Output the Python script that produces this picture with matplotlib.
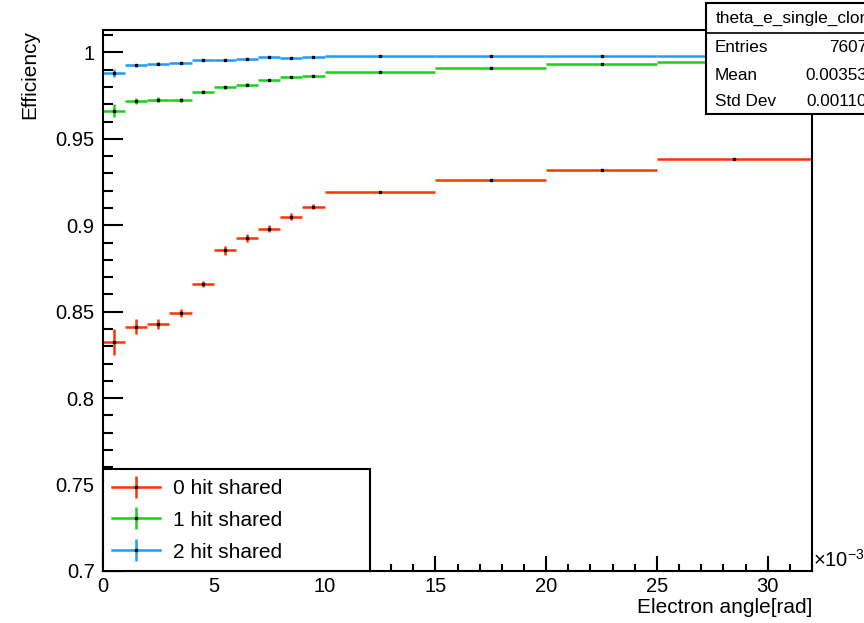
import numpy as np
import matplotlib
matplotlib.use("Agg")
import matplotlib.pyplot as plt
from matplotlib.patches import Rectangle
from matplotlib.lines import Line2D
from matplotlib.ticker import MultipleLocator

matplotlib.rcParams.update({
    'font.family': ['Liberation Sans', 'DejaVu Sans'],
    'font.size': 15,
    'mathtext.fontset': 'custom',
    'mathtext.rm': 'Liberation Sans',
})

# bin edges of electron angle (x 1e-3 rad)
edges = [0, 1, 2, 3, 4, 5, 6, 7, 8, 9, 10, 15, 20, 25, 32]

eff_0hit = [0.8325, 0.8414, 0.8428, 0.849, 0.866, 0.8856, 0.8925, 0.8979, 0.905,
            0.9108, 0.9191, 0.9263, 0.9322, 0.9383]
err_0hit = [0.0078, 0.0043, 0.0029, 0.0023, 0.0017, 0.0026, 0.0023, 0.002, 0.002,
            0.0014, 0.0006, 0.0005, 0.0005, 0.0005]

eff_1hit = [0.9664, 0.972, 0.9726, 0.9726, 0.9772, 0.9799, 0.9814, 0.984, 0.9857,
            0.9865, 0.9888, 0.991, 0.9934, 0.9946]
err_1hit = [0.0039, 0.0019, 0.0014, 0.0012, 0.0009, 0.0009, 0.0007, 0.0006, 0.0006,
            0.0005, 0.0003, 0.0003, 0.0003, 0.0003]

eff_2hit = [0.9883, 0.9925, 0.9936, 0.9938, 0.9956, 0.9956, 0.9961, 0.9973, 0.9967,
            0.9974, 0.998, 0.998, 0.998, 0.998]
err_2hit = [0.0023, 0.0009, 0.0006, 0.0005, 0.0004, 0.0004, 0.0004, 0.0003, 0.0003,
            0.0003, 0.0002, 0.0002, 0.0002, 0.0002]

labels = ['0 hit shared', '1 hit shared', '2 hit shared']
colors = ['#ff3300', '#14d214', '#1e9bff']

stats_title = 'theta_e_single_clone'
stats_names = ['Entries', 'Mean', 'Std Dev']
stats_values = ['7607', '0.00353', '0.00110']

edges = np.array(edges, dtype=float)
centers = 0.5 * (edges[1:] + edges[:-1])
halfw = 0.5 * (edges[1:] - edges[:-1])

W, H = 864, 623
fig = plt.figure(figsize=(W / 100, H / 100), dpi=100)
ax = fig.add_axes([103 / W, (H - 571) / H, (812 - 103) / W, (571 - 30) / H])

series = [(eff_0hit, err_0hit), (eff_1hit, err_1hit), (eff_2hit, err_2hit)]
handles = []
for (vals, errs), lab, col in zip(series, labels, colors):
    ax.errorbar(centers, vals, xerr=halfw, yerr=errs, fmt='none',
                ecolor=col, elinewidth=1.8, capsize=0, zorder=2)
    ax.plot(centers, vals, 's', color='k', ms=1.6, zorder=3)
    # legend symbol: horizontal bar + vertical bar + black point
    h = (Line2D([], [], color=col, lw=1.8),
         Line2D([], [], color=col, marker='|', ms=16, mew=1.8, ls='none'),
         Line2D([], [], color='k', marker='s', ms=1.6, ls='none'))
    handles.append(h)

ax.set_xlim(0, 32)
ax.set_ylim(0.7, 1.013)
ax.xaxis.set_minor_locator(MultipleLocator(1))
ax.yaxis.set_minor_locator(MultipleLocator(0.01))
ax.set_xticks([0, 5, 10, 15, 20, 25, 30])
ax.set_xticklabels(['0', '5', '10', '15', '20', '25', '30'])
ax.set_yticks([0.7, 0.75, 0.8, 0.85, 0.9, 0.95, 1.0])
ax.set_yticklabels(['0.7', '0.75', '0.8', '0.85', '0.9', '0.95', '1'])

ax.tick_params(axis='both', which='both', direction='in', top=False, right=False,
               labelsize=14.5, width=1.5)
ax.tick_params(axis='y', which='major', length=14.4, pad=6)
ax.tick_params(axis='y', which='minor', length=7)
ax.tick_params(axis='x', which='major', length=11, pad=4)
ax.tick_params(axis='x', which='minor', length=5.4)
for sp in ax.spines.values():
    sp.set_linewidth(1.5)

ax.set_xlabel('Electron angle[rad]', loc='right', fontsize=15)
ax.xaxis.set_label_coords(1.0, -0.05)
ax.set_ylabel('Efficiency', loc='top', fontsize=15)
ax.yaxis.set_label_coords(-0.09, 1.0)

ax.text(1.002, 0.0, r'$\mathregular{\times10^{-3}}$', transform=ax.transAxes,
        ha='left', va='bottom', fontsize=14.5)

leg = ax.legend(handles, labels, loc='lower left', bbox_to_anchor=(0, 0, 0.377, 0.194),
                mode='expand', borderaxespad=0, fancybox=False, edgecolor='k',
                framealpha=1, handlelength=2.3, handletextpad=0.6, labelspacing=0.62,
                fontsize=15, borderpad=0.45)
leg.get_frame().set_linewidth(1.5)

# stats box in the top right corner
def fx(px):
    return px / W

def fy(py):
    return (H - py) / H

fig.add_artist(Rectangle((fx(706), fy(114)), fx(200), fy(3) - fy(114),
                         transform=fig.transFigure, facecolor='white',
                         edgecolor='k', linewidth=1.5, zorder=5))
fig.add_artist(Line2D([fx(706), 1.0], [fy(33), fy(33)], transform=fig.transFigure,
                      color='k', linewidth=1.2, zorder=6))
fig.text(fx(716), fy(18), stats_title, ha='left', va='center', fontsize=12.4, zorder=7)
for i, (n, v) in enumerate(zip(stats_names, stats_values)):
    yy = fy(48 + 27 * i)
    fig.text(fx(715), yy, n, ha='left', va='center', fontsize=12.3, zorder=7)
    fig.text(fx(867), yy, v, ha='right', va='center', fontsize=12.3, zorder=7)

fig.savefig('out.png', dpi=100)
